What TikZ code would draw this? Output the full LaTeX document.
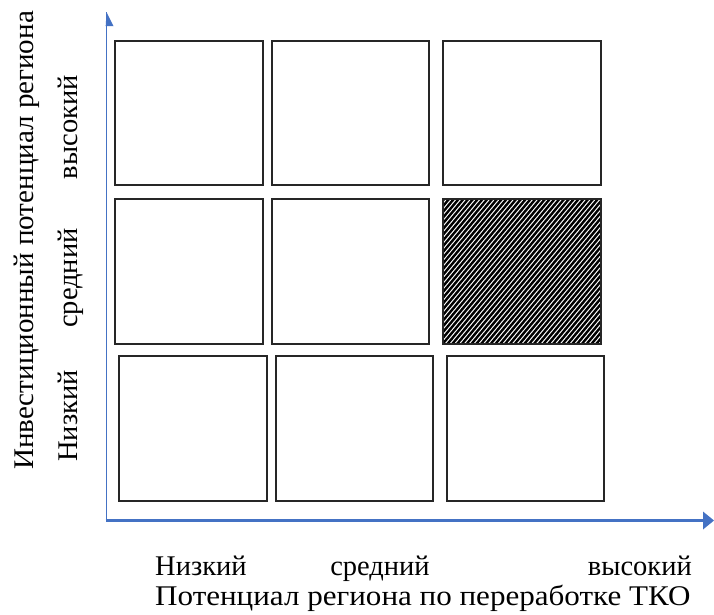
\documentclass[tikz,border=0pt]{standalone}
\usepackage{fontspec}
\setmainfont{Liberation Serif}
\usetikzlibrary{calc}
\definecolor{axisblue}{HTML}{4472C4}
\tikzset{
  cell/.style={draw=black!85, line width=1.4pt},
  axisline/.style={draw=axisblue},
  lbl/.style={inner sep=0pt, font=\fontsize{28.5}{32}\selectfont},
}
\begin{document}
\begin{tikzpicture}[x=1pt,y=-1pt]
\useasboundingbox (0,0) rectangle (714,614);
% boxes
\draw[cell] (115,41) rectangle (263,185);
\draw[cell] (272,41) rectangle (429,185);
\draw[cell] (443,41) rectangle (601,185);
\draw[cell] (115,199) rectangle (263,344);
\draw[cell] (272,199) rectangle (429,344);
\begin{scope}
\clip (443,199) rectangle (601,344);
\foreach \i in {0,...,60} {
  \draw[line width=2.4pt] (443-130+\i*4.8,344) -- ++(130,-155);
}
\end{scope}
\draw[cell] (443,199) rectangle (601,344);
\draw[cell] (119,356) rectangle (267,501);
\draw[cell] (276,356) rectangle (433,501);
\draw[cell] (447,356) rectangle (604,501);
% axes
\coordinate (O) at (106.5,520.5);
\coordinate (Ytop) at (106.5,12);
\coordinate (Xend) at (703,520.5);
\draw[axisline, line width=1.6pt] (O) -- (Ytop);
\draw[axisline, line width=3pt] ([xshift=-0.8pt]O) -- (Xend);
\fill[axisblue] (Ytop) -- ++(7,14) -- ++(-7.8,0) -- cycle;
\fill[axisblue] ($(Xend)+(0,-9)$) -- ++(11,9) -- ++(-11,9) -- cycle;
% x labels
\node[lbl, anchor=base west] (xl1) at (155,575) {Низкий};
\node[lbl, anchor=base] (xl2) at (380,575) {средний};
\node[lbl, anchor=base east] (xl3) at (692,575) {высокий};
\node[lbl, anchor=base west] (xt) at (155,605) {\scalebox{1.09}[1]{Потенциал региона по переработке ТКО}};
% y labels
\node[lbl, rotate=90, anchor=base west] (yt) at (33,470) {\scalebox{1.02}[1]{Инвестиционный потенциал региона}};
\node[lbl, rotate=90, anchor=base west] (yl1) at (77,462) {Низкий};
\node[lbl, rotate=90, anchor=base] (yl2) at (77,278) {средний};
\node[lbl, rotate=90, anchor=base east] (yl3) at (77,75) {высокий};
\end{tikzpicture}
\end{document}
